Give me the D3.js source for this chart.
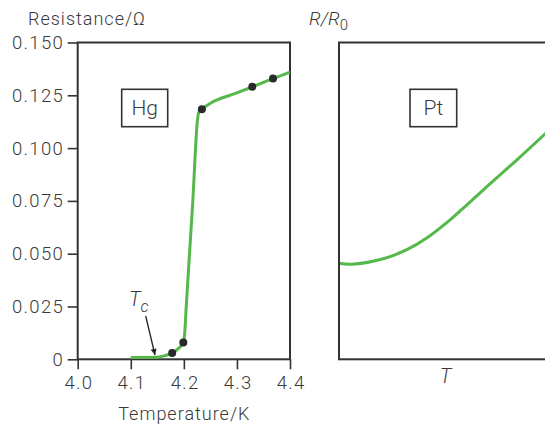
<!DOCTYPE html>
<html>
<head>
<meta charset="utf-8">
<script src="https://cdn.jsdelivr.net/npm/d3@7"></script>
<style>
  body { margin: 0; background: #fff; }
  svg text { font-family: Roboto, "Liberation Sans", sans-serif; font-weight: 300; fill: #3a3a3a; }
</style>
</head>
<body>
<svg id="chart" width="545" height="424"></svg>
<script>
// Mercury: resistance (Ω) vs temperature (K), smooth trace
const hgTemp = [4.10, 4.15, 4.165, 4.178, 4.19, 4.199, 4.2015, 4.2045, 4.217, 4.2255, 4.2285, 4.234, 4.25, 4.30, 4.35, 4.40];
const hgRes  = [0.0008, 0.0010, 0.0018, 0.0030, 0.0052, 0.0079, 0.0120, 0.0250, 0.0754, 0.1130, 0.1172, 0.1184, 0.1212, 0.1261, 0.1311, 0.1360];
// Mercury: measured points
const hgPtsTemp = [4.178, 4.199, 4.234, 4.329, 4.368];
const hgPtsRes  = [0.0030, 0.0079, 0.1184, 0.1290, 0.1329];
// Axis ticks
const tempTicks = [4.0, 4.1, 4.2, 4.3, 4.4];
const resTicks  = [0, 0.025, 0.05, 0.075, 0.1, 0.125, 0.15];
const resTickLabels = ["0", "0.025", "0.050", "0.075", "0.100", "0.125", "0.150"];
// Platinum: relative resistance vs temperature (arbitrary units)
const ptTemp = [0, 0.06, 0.217, 0.32, 0.414, 0.524, 0.602, 0.681, 0.838, 1.0];
const ptRel  = [0.303, 0.300, 0.319, 0.346, 0.383, 0.440, 0.487, 0.535, 0.629, 0.729];

const svg = d3.select("#chart");
const green = "#55b84b", dark = "#333333", dotColor = "#2a2a2a";

const plotTop = 42.5, plotBottom = 359.3;

// ---------- Hg panel ----------
const x = d3.scaleLinear().domain([4.0, 4.4]).range([77.7, 290]);
const y = d3.scaleLinear().domain([0, 0.15]).range([plotBottom, plotTop]);

const gx = svg.append("g").attr("transform", `translate(0,${plotBottom})`)
  .call(d3.axisBottom(x).tickValues(tempTicks).tickFormat(d3.format(".1f")).tickSize(10).tickPadding(7));
const gy = svg.append("g").attr("transform", `translate(${x(4.0)},0)`)
  .call(d3.axisLeft(y).tickValues(resTicks).tickFormat((d, i) => resTickLabels[i]).tickSize(10).tickPadding(5));
[gx, gy].forEach(g => {
  g.select(".domain").remove();
  g.selectAll(".tick line").attr("stroke", dark).attr("stroke-width", 1.6);
  g.selectAll(".tick text").attr("font-size", 18.5).attr("fill", "#3a3a3a").style("letter-spacing", "1.3px");
});
gy.selectAll(".tick text").attr("dx", 1.3);
gx.selectAll(".tick text").attr("dx", 0.7);

svg.append("rect")
  .attr("x", x(4.0)).attr("y", y(0.15))
  .attr("width", x(4.4) - x(4.0)).attr("height", y(0) - y(0.15))
  .attr("fill", "none").attr("stroke", dark).attr("stroke-width", 2);

svg.append("path")
  .datum(d3.zip(hgTemp, hgRes))
  .attr("fill", "none").attr("stroke", green).attr("stroke-width", 3)
  .attr("d", d3.line().x(d => x(d[0])).y(d => y(d[1])).curve(d3.curveMonotoneX));

svg.selectAll("circle.hg")
  .data(d3.zip(hgPtsTemp, hgPtsRes))
  .join("circle").attr("class", "hg")
  .attr("cx", d => x(d[0])).attr("cy", d => y(d[1])).attr("r", 4)
  .attr("fill", dotColor);

// label box
svg.append("rect").attr("x", 121.7).attr("y", 89.3).attr("width", 46).attr("height", 37.4)
  .attr("fill", "#fff").attr("stroke", dark).attr("stroke-width", 1.6);
svg.append("text").attr("x", 144.7).attr("y", 115).attr("text-anchor", "middle")
  .attr("font-size", 21).text("Hg");

// axis titles
svg.append("text").attr("x", 28).attr("y", 25).attr("font-size", 18)
  .style("letter-spacing", "1px").text("Resistance/Ω");
svg.append("text").attr("x", (x(4.0) + x(4.4)) / 2 + 0.5).attr("y", 420).attr("text-anchor", "middle")
  .attr("font-size", 18).style("letter-spacing", "1px").text("Temperature/K");

// Tc annotation
const tc = svg.append("text").attr("x", 129).attr("y", 306).attr("font-size", 20).attr("font-style", "italic");
tc.append("tspan").text("T");
tc.append("tspan").attr("dy", 6).attr("font-size", 16).text("c");

svg.append("defs").append("marker")
  .attr("id", "arrow").attr("viewBox", "0 0 10 10").attr("refX", 10).attr("refY", 5)
  .attr("markerWidth", 10).attr("markerHeight", 6).attr("markerUnits", "userSpaceOnUse")
  .attr("orient", "auto")
  .append("path").attr("d", "M0,0 L10,5 L0,10 Z").attr("fill", "#222");
svg.append("line").attr("x1", 145.7).attr("y1", 316).attr("x2", 155).attr("y2", 355)
  .attr("stroke", "#222").attr("stroke-width", 1.3).attr("marker-end", "url(#arrow)");

// ---------- Pt panel ----------
const x2 = d3.scaleLinear().domain([0, 1]).range([339, 551]);
const y2 = d3.scaleLinear().domain([0, 1]).range([plotBottom, plotTop]);

svg.append("clipPath").attr("id", "ptclip").append("rect")
  .attr("x", x2(0)).attr("y", y2(1)).attr("width", x2(1) - x2(0)).attr("height", y2(0) - y2(1));

svg.append("path")
  .datum(d3.zip(ptTemp, ptRel))
  .attr("clip-path", "url(#ptclip)")
  .attr("fill", "none").attr("stroke", green).attr("stroke-width", 3)
  .attr("d", d3.line().x(d => x2(d[0])).y(d => y2(d[1])).curve(d3.curveCatmullRom.alpha(0.5)));

svg.append("rect")
  .attr("x", x2(0)).attr("y", y2(1))
  .attr("width", x2(1) - x2(0)).attr("height", y2(0) - y2(1))
  .attr("fill", "none").attr("stroke", dark).attr("stroke-width", 2);

svg.append("rect").attr("x", 410).attr("y", 89.3).attr("width", 46.7).attr("height", 37.4)
  .attr("fill", "#fff").attr("stroke", dark).attr("stroke-width", 1.6);
svg.append("text").attr("x", 433.3).attr("y", 115).attr("text-anchor", "middle")
  .attr("font-size", 21).text("Pt");

const rr = svg.append("text").attr("x", 309).attr("y", 25).attr("font-size", 19).attr("font-style", "italic");
rr.append("tspan").text("R/R");
rr.append("tspan").attr("dy", 5).attr("font-size", 15).attr("font-style", "normal").text("0");

svg.append("text").attr("x", 445.5).attr("y", 383).attr("text-anchor", "middle")
  .attr("font-size", 20).attr("font-style", "italic").text("T");
</script>
</body>
</html>
